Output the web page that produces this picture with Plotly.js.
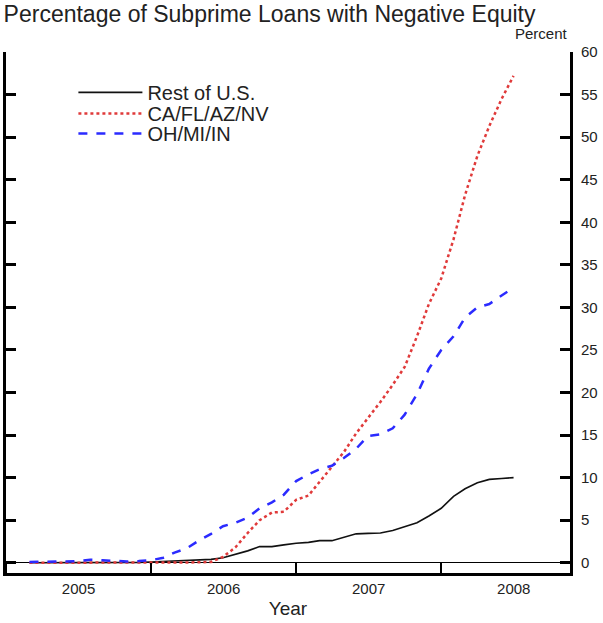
<!DOCTYPE html>
<html>
<head>
<meta charset="utf-8">
<script src="https://cdn.plot.ly/plotly-3.0.1.min.js"></script>
<style>html,body{margin:0;padding:0;background:#fff;}#chart{width:603px;height:623px;}</style>
</head>
<body>
<div id="chart"></div>
<script>
const months = ["2005-03","2005-04","2005-05","2005-06","2005-07","2005-08","2005-09","2005-10","2005-11","2005-12",
  "2006-01","2006-02","2006-03","2006-04","2006-05","2006-06","2006-07","2006-08","2006-09","2006-10","2006-11","2006-12",
  "2007-01","2007-02","2007-03","2007-04","2007-05","2007-06","2007-07","2007-08","2007-09","2007-10","2007-11","2007-12",
  "2008-01","2008-02","2008-03","2008-04","2008-05","2008-06","2008-07"];
const restOfUS = [0.0,0.0,0.0,0.0,0.0,0.0,0.0,0.0,0.05,0.05,
  0.1,0.15,0.2,0.3,0.3,0.4,0.6,1.0,1.4,1.9,1.9,2.1,
  2.3,2.4,2.6,2.6,3.0,3.4,3.45,3.5,3.8,4.2,4.7,5.5,
  6.4,7.8,8.7,9.4,9.8,9.9,10.0];
const caFlAzNv = [0.0,0.0,0.0,0.0,0.0,0.0,0.0,0.0,0.0,0.0,
  0.0,0.0,0.0,0.0,0.05,0.1,0.7,1.8,3.5,5.0,5.9,6.0,
  7.4,7.9,9.5,11.3,13.0,15.2,17.0,18.9,20.9,23.0,26.6,30.4,
  33.4,38.0,43.2,47.8,51.3,54.5,57.2];
const ohMiIn = [0.1,0.1,0.1,0.15,0.2,0.35,0.3,0.2,0.15,0.2,
  0.3,0.6,1.2,1.7,2.6,3.4,4.3,4.7,5.3,6.4,7.1,8.0,
  9.6,10.4,11.0,11.4,12.3,13.4,14.9,15.1,15.8,17.4,19.8,22.8,
  25.0,26.6,28.8,30.0,30.4,31.4,32.3];
const yTicks = [0,5,10,15,20,25,30,35,40,45,50,55,60];

const font = "Liberation Sans, Arial, sans-serif";
const traces = [
  {x: months, y: restOfUS, name: "Rest of U.S.", type: "scatter", mode: "lines", legend: "legend",
   line: {color: "#111111", width: 1.6}},
  {x: months, y: caFlAzNv, name: "CA/FL/AZ/NV", type: "scatter", mode: "lines", legend: "legend2",
   line: {color: "#e03a3a", width: 2.5, dash: "dot"}},
  {x: months, y: ohMiIn, name: "OH/MI/IN", type: "scatter", mode: "lines", legend: "legend3",
   line: {color: "#2b2bff", width: 2.5, dash: "dash"}}
];
function leg(y) {
  return {x: 0.1195, y: y, xanchor: "left", yanchor: "top",
    bgcolor: "rgba(0,0,0,0)", font: {family: font, size: 20, color: "#222"},
    tracegroupgap: 0, itemwidth: 64};
}
const layout = {
  width: 603, height: 623,
  margin: {l: 6, r: 33, t: 52, b: 50},
  paper_bgcolor: "#fff", plot_bgcolor: "#fff",
  font: {family: font, color: "#222", size: 14},
  title: {text: "Percentage of Subprime Loans with Negative Equity",
    font: {family: font, size: 23, color: "#222"},
    xref: "container", x: 0.006, xanchor: "left",
    yref: "container", y: 0.977, yanchor: "middle"},
  showlegend: true,
  legend: leg(0.960),
  legend2: leg(0.9194),
  legend3: leg(0.881),
  xaxis: {type: "date", range: ["2005-01-01", "2008-11-20"],
    tick0: "2005-01-01", dtick: "M12", ticklabelmode: "period", tickformat: "%Y",
    ticks: "inside", ticklen: 10, tickwidth: 2, tickcolor: "#000",
    showline: true, linecolor: "#000", linewidth: 3, mirror: false,
    showgrid: false, zeroline: false,
    tickfont: {family: font, size: 15, color: "#222"},
    title: {text: "Year", font: {family: font, size: 19, color: "#222"}, standoff: 6}},
  yaxis: {range: [-1.2, 60], side: "right", tickvals: yTicks,
    ticks: "inside", ticklen: 10, tickwidth: 3, tickcolor: "#000",
    showline: true, linecolor: "#000", linewidth: 3, mirror: "ticks",
    showgrid: false, zeroline: true, zerolinecolor: "#000", zerolinewidth: 1,
    ticklabelstandoff: 5,
    tickfont: {family: font, size: 15, color: "#222"}},
  annotations: [{text: "Percent", xref: "paper", yref: "paper", x: 1.0, y: 1.0,
    xanchor: "right", yanchor: "bottom", yshift: 8, showarrow: false,
    font: {family: font, size: 15, color: "#222"}}]
};
Plotly.newPlot("chart", traces, layout, {staticPlot: true, displayModeBar: false});
</script>
</body>
</html>
